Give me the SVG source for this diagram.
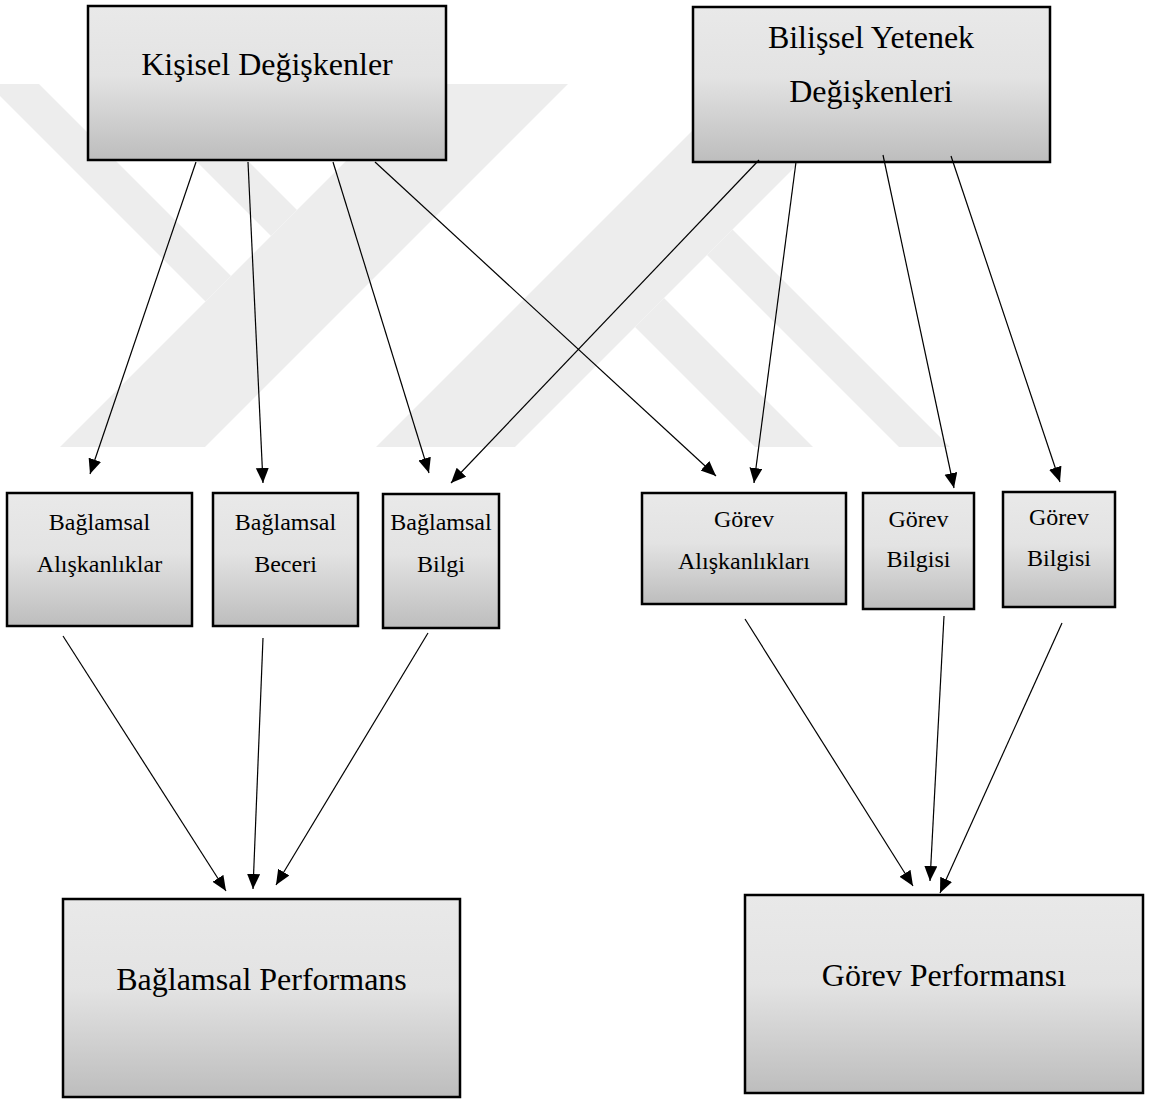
<svg xmlns="http://www.w3.org/2000/svg" width="1152" height="1099" viewBox="0 0 1152 1099">
<defs>
<linearGradient id="g" x1="0" y1="0" x2="0" y2="1">
<stop offset="0" stop-color="#e9e9e9"/>
<stop offset="0.45" stop-color="#e3e3e3"/>
<stop offset="1" stop-color="#bdbdbd"/>
</linearGradient>
<marker id="ah" markerUnits="userSpaceOnUse" markerWidth="16" markerHeight="14" refX="15" refY="6.5" orient="auto">
<path d="M0,0 L15,6.5 L0,13 z" fill="#000"/>
</marker>
</defs>
<style>
.box{fill:url(#g);stroke:#000;stroke-width:2.5}
.big{font-size:32px;fill:#000;text-anchor:middle}
.sm{font-size:24px;fill:#000;text-anchor:middle}
.c line{stroke:#000;stroke-width:1.2;marker-end:url(#ah)}
.wm{fill:#ededed}
</style>
<rect width="1152" height="1099" fill="#fff"/>
<g id="watermark">
<polygon class="wm" points="423,84 568,84 205,447 60,447"/>
<polygon class="wm" points="739,84 878,84 515,447 376,447"/>
<polygon class="wm" points="-12,84 39,84 231,276 205.5,301.5"/>
<polygon class="wm" points="119,84 171,84 297,210 271,236"/>
<polygon class="wm" points="707,255 732.5,229.5 950,447 899,447"/>
<polygon class="wm" points="635,327 664,298 813,447 755,447"/>
</g>
<g font-family="Liberation Serif, Tinos, Times New Roman, Times, DejaVu Serif, serif">
<g id="kisisel"><rect class="box" x="88" y="6" width="358" height="154"/><text class="big" x="267" y="75">Kişisel Değişkenler</text></g>
<g id="bilissel"><rect class="box" x="693" y="7" width="357" height="155"/><text class="big" x="871" y="48">Bilişsel Yetenek</text><text class="big" x="871" y="102">Değişkenleri</text></g>
<g id="b-aliskanlik"><rect class="box" x="7" y="493" width="185" height="133"/><text class="sm" x="99.5" y="530">Bağlamsal</text><text class="sm" x="99.5" y="572">Alışkanlıklar</text></g>
<g id="b-beceri"><rect class="box" x="213" y="493" width="145" height="133"/><text class="sm" x="285.5" y="530">Bağlamsal</text><text class="sm" x="285.5" y="572">Beceri</text></g>
<g id="b-bilgi"><rect class="box" x="383" y="494" width="116" height="134"/><text class="sm" x="441" y="530">Bağlamsal</text><text class="sm" x="441" y="572">Bilgi</text></g>
<g id="g-aliskanlik"><rect class="box" x="642" y="493" width="204" height="111"/><text class="sm" x="744" y="527">Görev</text><text class="sm" x="744" y="569">Alışkanlıkları</text></g>
<g id="g-bilgi1"><rect class="box" x="863" y="493" width="111" height="116"/><text class="sm" x="918.5" y="527">Görev</text><text class="sm" x="918.5" y="567">Bilgisi</text></g>
<g id="g-bilgi2"><rect class="box" x="1003" y="492" width="112" height="115"/><text class="sm" x="1059" y="525">Görev</text><text class="sm" x="1059" y="566">Bilgisi</text></g>
<g id="b-perf"><rect class="box" x="63" y="899" width="397" height="198"/><text class="big" x="261.5" y="990">Bağlamsal Performans</text></g>
<g id="g-perf"><rect class="box" x="745" y="895" width="398" height="198"/><text class="big" x="944" y="986">Görev Performansı</text></g>
</g>
<g class="c" id="connectors">
<line x1="196" y1="162" x2="90" y2="474"/>
<line x1="248" y1="162" x2="263" y2="483"/>
<line x1="333" y1="162" x2="429" y2="473"/>
<line x1="375" y1="162" x2="716" y2="476"/>
<line x1="759" y1="160" x2="451" y2="483"/>
<line x1="796" y1="162" x2="754" y2="483"/>
<line x1="883" y1="155" x2="954" y2="488"/>
<line x1="951" y1="156" x2="1060" y2="482"/>
<line x1="63" y1="636" x2="226" y2="891"/>
<line x1="263" y1="638" x2="253" y2="889"/>
<line x1="428" y1="633" x2="276" y2="885"/>
<line x1="745" y1="619" x2="913" y2="886"/>
<line x1="944" y1="616" x2="930" y2="881"/>
<line x1="1062" y1="623" x2="940" y2="893"/>
</g>
</svg>
